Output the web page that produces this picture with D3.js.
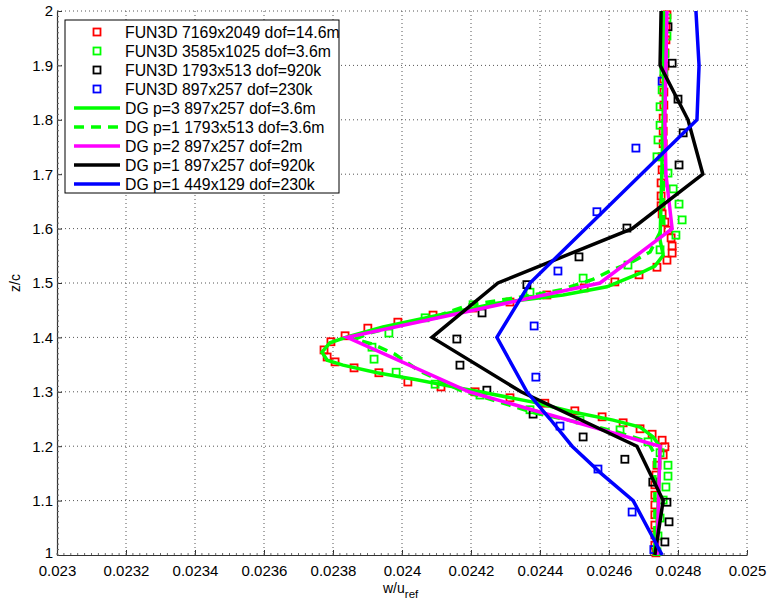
<!DOCTYPE html>
<html>
<head>
<meta charset="utf-8">
<script src="https://cdn.jsdelivr.net/npm/d3@7"></script>
<style>
  body { margin: 0; background: #fff; }
  svg { display: block; font-family: "Liberation Sans", Arial, Helvetica, sans-serif; }
</style>
</head>
<body>
<svg id="chart" width="769" height="602"></svg>
<script>
// tick labels
const xTicks = [0.023, 0.0232, 0.0234, 0.0236, 0.0238, 0.024, 0.0242, 0.0244, 0.0246, 0.0248, 0.025];
const yTicks = [1, 1.1, 1.2, 1.3, 1.4, 1.5, 1.6, 1.7, 1.8, 1.9, 2];

// FUN3D 7169x2049 dof=14.6m  [w/uref, z/c]
const fun3dFine = [
  [0.024768, 1.993], [0.024765, 1.971], [0.024765, 1.947], [0.024762, 1.923], [0.024762, 1.899],
  [0.024759, 1.875], [0.024759, 1.851], [0.024759, 1.827], [0.024757, 1.803], [0.024757, 1.779],
  [0.024757, 1.756], [0.024754, 1.732], [0.024754, 1.708], [0.024751, 1.684], [0.024751, 1.660],
  [0.024751, 1.642], [0.024754, 1.627], [0.024762, 1.612], [0.024771, 1.597], [0.024780, 1.583],
  [0.024783, 1.568], [0.024783, 1.555], [0.024768, 1.542], [0.024739, 1.529], [0.024687, 1.515],
  [0.024617, 1.502], [0.024528, 1.491], [0.024420, 1.478], [0.024313, 1.465], [0.024206, 1.454],
  [0.024090, 1.441], [0.023988, 1.428], [0.023901, 1.417], [0.023835, 1.403], [0.023794, 1.392],
  [0.023774, 1.377], [0.023783, 1.364], [0.023806, 1.355], [0.023861, 1.344], [0.023933, 1.335],
  [0.024017, 1.318], [0.024113, 1.309], [0.024212, 1.300], [0.024313, 1.289], [0.024414, 1.279],
  [0.024501, 1.265], [0.024580, 1.254], [0.024641, 1.243], [0.024690, 1.232], [0.024725, 1.222],
  [0.024754, 1.211], [0.024762, 1.199], [0.024757, 1.184], [0.024739, 1.165], [0.024736, 1.147],
  [0.024733, 1.129], [0.024733, 1.110], [0.024733, 1.092], [0.024733, 1.074], [0.024733, 1.055],
  [0.024733, 1.037], [0.024733, 1.018], [0.024736, 1.004]
];

// FUN3D 3585x1025 dof=3.6m
const fun3dMedium = [
  [0.024768, 1.987], [0.024768, 1.954], [0.024762, 1.921], [0.024759, 1.888], [0.024754, 1.855],
  [0.024748, 1.824], [0.024748, 1.790], [0.024742, 1.763], [0.024739, 1.732], [0.024771, 1.702],
  [0.024786, 1.673], [0.024803, 1.645], [0.024812, 1.616], [0.024794, 1.588], [0.024748, 1.561],
  [0.024655, 1.533], [0.024525, 1.509], [0.024371, 1.483], [0.024206, 1.460], [0.024067, 1.436],
  [0.023962, 1.408], [0.023913, 1.382], [0.023919, 1.360], [0.023983, 1.336], [0.024096, 1.314],
  [0.024226, 1.294], [0.024371, 1.267], [0.024516, 1.248], [0.024632, 1.230], [0.024713, 1.208],
  [0.024748, 1.188], [0.024771, 1.165], [0.024771, 1.145], [0.024765, 1.125], [0.024757, 1.101],
  [0.024748, 1.068], [0.024742, 1.035], [0.024739, 1.006]
];

// FUN3D 1793x513 dof=920k
const fun3dCoarse = [
  [0.024771, 1.971], [0.024783, 1.904], [0.024800, 1.838], [0.024815, 1.776], [0.024803, 1.717],
  [0.024652, 1.601], [0.024513, 1.548], [0.024362, 1.497], [0.024232, 1.445], [0.024159, 1.397],
  [0.024168, 1.349], [0.024246, 1.303], [0.024380, 1.259], [0.024525, 1.217], [0.024646, 1.176],
  [0.024727, 1.134], [0.024768, 1.097], [0.024774, 1.061], [0.024762, 1.024]
];

// FUN3D 897x257 dof=230k
const fun3dCoarsest = [
  [0.024754, 1.871], [0.024678, 1.748], [0.024565, 1.631], [0.024452, 1.522], [0.024383, 1.421],
  [0.024388, 1.327], [0.024458, 1.237], [0.024568, 1.158], [0.024667, 1.079], [0.024730, 1.010]
];

// DG p=3 897x257 dof=3.6m
const dgP3 = [
  [0.024759, 2.0], [0.024757, 1.80], [0.024751, 1.653], [0.024748, 1.579], [0.024757, 1.551],
  [0.024733, 1.531], [0.024690, 1.518], [0.024594, 1.493], [0.024467, 1.478], [0.024275, 1.463],
  [0.024081, 1.4375], [0.023945, 1.419], [0.023841, 1.401], [0.023791, 1.390], [0.023768, 1.373],
  [0.023783, 1.358], [0.023829, 1.349], [0.023928, 1.335], [0.024043, 1.322], [0.024148, 1.309],
  [0.024226, 1.300], [0.024380, 1.281], [0.024496, 1.263], [0.024612, 1.248], [0.024690, 1.235],
  [0.024728, 1.217], [0.024748, 1.199], [0.024743, 1.101], [0.024736, 1.0]
];

// DG p=1 1793x513 dof=3.6m
const dgP1Fine = [
  [0.024762, 2.0], [0.024762, 1.836], [0.024757, 1.653], [0.024759, 1.607], [0.024719, 1.557],
  [0.024661, 1.537], [0.024609, 1.524], [0.024551, 1.506], [0.024458, 1.487], [0.024342, 1.474],
  [0.024197, 1.460], [0.024110, 1.441], [0.023994, 1.423], [0.023907, 1.408], [0.023864, 1.397],
  [0.023913, 1.388], [0.023980, 1.369], [0.024046, 1.340], [0.024168, 1.303], [0.024284, 1.281],
  [0.024386, 1.261], [0.024510, 1.244], [0.024623, 1.226], [0.024713, 1.208], [0.024733, 1.184],
  [0.024733, 1.0]
];

// DG p=2 897x257 dof=2m
const dgP2 = [
  [0.024768, 2.0], [0.024765, 1.9], [0.024762, 1.8], [0.024765, 1.7], [0.024783, 1.6],
  [0.024574, 1.5], [0.023841, 1.4], [0.024194, 1.3], [0.024748, 1.2], [0.024739, 1.0]
];

// DG p=1 897x257 dof=920k
const dgP1Mid = [
  [0.024751, 2.0], [0.024748, 1.9], [0.024829, 1.8], [0.024872, 1.7], [0.024667, 1.6],
  [0.024278, 1.5], [0.024087, 1.4], [0.024345, 1.3], [0.024681, 1.2], [0.024757, 1.1],
  [0.024733, 1.0]
];

// DG p=1 449x129 dof=230k
const dgP1Coarse = [
  [0.024852, 2.0], [0.024861, 1.9], [0.024855, 1.8], [0.024371, 1.5], [0.024275, 1.4],
  [0.024362, 1.3], [0.024429, 1.25], [0.024493, 1.2], [0.024577, 1.15], [0.024670, 1.1],
  [0.024754, 1.0]
];

const markerSeries = [
  { name: "FUN3D 7169x2049 dof=14.6m", data: fun3dFine, color: "#ff0000" },
  { name: "FUN3D 3585x1025 dof=3.6m", data: fun3dMedium, color: "#00ff00" },
  { name: "FUN3D 1793x513 dof=920k", data: fun3dCoarse, color: "#000000" },
  { name: "FUN3D 897x257 dof=230k", data: fun3dCoarsest, color: "#0000ff" }
];
const lineSeries = [
  { name: "DG p=3 897x257 dof=3.6m", data: dgP3, color: "#00ff00", dash: null },
  { name: "DG p=1 1793x513 dof=3.6m", data: dgP1Fine, color: "#00ff00", dash: "10,7" },
  { name: "DG p=2 897x257 dof=2m", data: dgP2, color: "#ff00ff", dash: null },
  { name: "DG p=1 897x257 dof=920k", data: dgP1Mid, color: "#000000", dash: null },
  { name: "DG p=1 449x129 dof=230k", data: dgP1Coarse, color: "#0000ff", dash: null }
];

const M = { left: 57, right: 747, top: 11, bottom: 555 };

const svg = d3.select("#chart");
const x = d3.scaleLinear().domain([0.023, 0.025]).range([M.left, M.right]);
const y = d3.scaleLinear().domain([1, 2]).range([M.bottom, M.top]);

// dotted grid
const grid = svg.append("g").attr("stroke", "#555").attr("stroke-width", 1)
  .attr("stroke-dasharray", "1,3");
grid.selectAll("line.gx").data(xTicks.slice(1)).join("line")
  .attr("x1", d => x(d)).attr("x2", d => x(d))
  .attr("y1", M.top).attr("y2", M.bottom);
grid.selectAll("line.gy").data(yTicks.slice(1)).join("line")
  .attr("y1", d => y(d)).attr("y2", d => y(d))
  .attr("x1", M.left).attr("x2", M.right);

// axes
const xAxis = d3.axisBottom(x).tickValues(xTicks).tickSizeInner(-5).tickSizeOuter(0)
  .tickPadding(10).tickFormat(d => String(+d.toFixed(4)));
const yAxis = d3.axisLeft(y).tickValues(yTicks).tickSizeInner(-5).tickSizeOuter(0)
  .tickPadding(4).tickFormat(d => String(+d.toFixed(1)));

const gx = svg.append("g").attr("transform", `translate(0,${M.bottom})`).call(xAxis);
const gy = svg.append("g").attr("transform", `translate(${M.left},0)`).call(yAxis);
[gx, gy].forEach(g => {
  g.select(".domain").attr("stroke", "#333").attr("stroke-width", 1.2);
  g.selectAll(".tick line").attr("stroke", "#333");
  g.selectAll(".tick text").attr("font-size", 15).attr("fill", "#000")
    .attr("font-family", "\"Liberation Sans\", Arial, sans-serif");
});
// lift the bottom "1" a touch so it clears the x labels
gy.selectAll(".tick text").filter(d => d === 1).attr("dy", "0.18em");

// minor ticks
const minorX = d3.range(0, 101).map(i => 0.023 + i * 0.00002);
const minorY = d3.range(0, 101).map(i => 1 + i * 0.01);
svg.append("g").attr("stroke", "#666").attr("stroke-width", 1)
  .selectAll("line").data(minorX).join("line")
  .attr("x1", d => x(d)).attr("x2", d => x(d))
  .attr("y1", M.bottom).attr("y2", M.bottom - 2);
svg.append("g").attr("stroke", "#666").attr("stroke-width", 1)
  .selectAll("line").data(minorY).join("line")
  .attr("y1", d => y(d)).attr("y2", d => y(d))
  .attr("x1", M.left).attr("x2", M.left + 2);

// axis titles
svg.append("text")
  .attr("transform", `translate(20,${(M.top + M.bottom) / 2}) rotate(-90)`)
  .attr("text-anchor", "middle").attr("font-size", 14).text("z/c");
const xl = svg.append("text").attr("x", x(0.024) - 19).attr("y", 593).attr("font-size", 14);
xl.append("tspan").text("w/u");
xl.append("tspan").attr("dy", 5).attr("font-size", 11.5).text("ref");

// plot
const plot = svg.append("g");
markerSeries.forEach(s => {
  plot.append("g").selectAll("rect").data(s.data).join("rect")
    .attr("x", d => x(d[0]) - 3.5).attr("y", d => y(d[1]) - 3.5)
    .attr("width", 7).attr("height", 7)
    .attr("fill", "none").attr("stroke", s.color).attr("stroke-width", 1.8);
});
const line = d3.line().x(d => x(d[0])).y(d => y(d[1]));
lineSeries.forEach(s => {
  plot.append("path").datum(s.data)
    .attr("d", line)
    .attr("fill", "none").attr("stroke", s.color).attr("stroke-width", 3.5)
    .attr("stroke-linejoin", "miter")
    .attr("stroke-dasharray", s.dash);
});

// legend
const lg = svg.append("g");
lg.append("rect").attr("x", 65).attr("y", 20).attr("width", 274).attr("height", 173)
  .attr("fill", "#fff").attr("stroke", "#000").attr("stroke-width", 1);
const rowY = i => 32 + i * 19;
markerSeries.forEach((s, i) => {
  lg.append("rect").attr("x", 97 - 3.5).attr("y", rowY(i) - 3.5).attr("width", 7).attr("height", 7)
    .attr("fill", "none").attr("stroke", s.color).attr("stroke-width", 1.8);
  lg.append("text").attr("x", 125).attr("y", rowY(i) + 5.5).attr("font-size", 15.8).text(s.name);
});
lineSeries.forEach((s, j) => {
  const i = j + 4;
  lg.append("line").attr("x1", 74).attr("x2", 120).attr("y1", rowY(i)).attr("y2", rowY(i))
    .attr("stroke", s.color).attr("stroke-width", 3.5).attr("stroke-dasharray", s.dash);
  lg.append("text").attr("x", 125).attr("y", rowY(i) + 5.5).attr("font-size", 15.8).text(s.name);
});
</script>
</body>
</html>
